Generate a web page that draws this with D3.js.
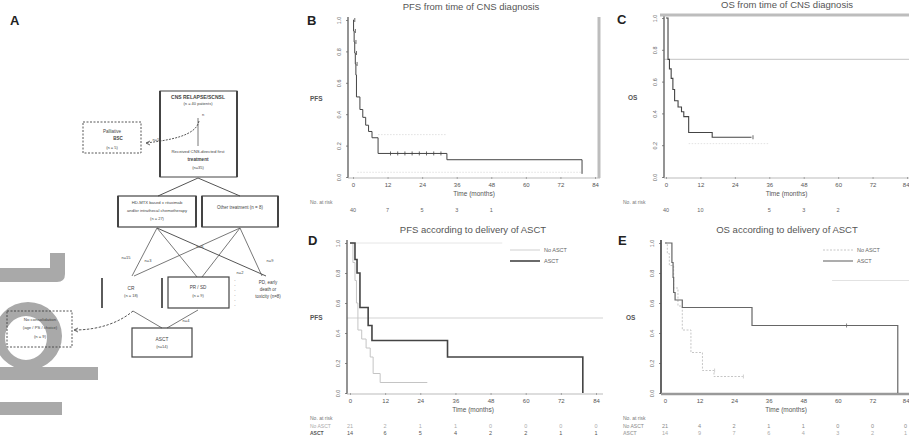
<!DOCTYPE html>
<html>
<head>
<meta charset="utf-8">
<script src="https://cdn.jsdelivr.net/npm/d3@7"></script>
<style>
  body { margin: 0; background: #fff; }
  svg { display: block; font-family: "Liberation Sans", Arial, sans-serif; }
</style>
</head>
<body>
<svg id="fig" width="909" height="441"></svg>
<script>
// ---- data (months / survival probability)
const monthTicks = [0, 12, 24, 36, 48, 60, 72, 84];
const survTicks = [0, 0.2, 0.4, 0.6, 0.8, 1];

// B: PFS, all patients
const pfsAllTime = [0, 0.2, 0.4, 0.6, 0.8, 1.0, 1.2, 2.4, 3.4, 4.4, 5.4, 6.6, 8.7, 32.6, 79.5];
const pfsAllSurv = [1.0, 0.93, 0.86, 0.79, 0.72, 0.65, 0.51, 0.43, 0.38, 0.33, 0.29, 0.25, 0.15, 0.11, 0.02];
const pfsAllEnd = 79.5;
const pfsAllCensor = [0.1, 0.3, 0.5, 0.7, 0.9, 12.5, 15, 17.5, 20, 22.5, 25, 27.5, 30];
const pfsAllRisk = [40, 7, 5, 3, 1, null, null, null];

// C: OS, all patients
const osAllTime = [0, 0.7, 1.2, 1.8, 2.4, 3.0, 4.2, 5.4, 6.2, 7.9, 16.1];
const osAllSurv = [1.0, 0.74, 0.68, 0.62, 0.55, 0.48, 0.44, 0.41, 0.38, 0.28, 0.25];
const osAllEnd = 29.8;
const osAllCensor = [29.8];
const osAllRisk = [40, 10, null, 5, 3, 2, null, null];

// D: PFS by ASCT
const pfsAsctTime = [0, 1.7, 2.4, 3.4, 6.2, 7.5, 33.3, 79.5];
const pfsAsctSurv = [1.0, 0.89, 0.80, 0.57, 0.45, 0.35, 0.24, 0.0];
const pfsAsctEnd = 79.5;
const pfsNoTime = [0, 1.0, 1.7, 2.2, 2.7, 4.0, 5.5, 6.9, 7.9, 10.3];
const pfsNoSurv = [1.0, 0.87, 0.75, 0.60, 0.42, 0.36, 0.30, 0.24, 0.13, 0.07];
const pfsNoEnd = 26.4;
const pfsNoRisk = [21, 2, 1, 1, 0, 0, 0, 0];
const pfsAsctRisk = [14, 6, 5, 4, 2, 2, 1, 1];

// E: OS by ASCT
const osAsctTime = [0, 2.4, 2.8, 3.0, 3.5, 6.0, 30.2, 80.8];
const osAsctSurv = [1.0, 0.87, 0.77, 0.67, 0.62, 0.57, 0.45, 0.0];
const osAsctEnd = 80.8;
const osAsctCensor = [62.5];
const osNoTime = [0, 0.8, 1.5, 3.0, 4.5, 6.0, 9.0, 13.0, 17.0];
const osNoSurv = [1.0, 0.93, 0.85, 0.70, 0.58, 0.42, 0.27, 0.15, 0.11];
const osNoEnd = 27;
const osNoCensor = [16.7, 26.7];
const osNoRisk = [21, 4, 2, 1, 1, 0, 0, 0];
const osAsctRisk = [14, 9, 7, 6, 4, 3, 2, 1];

const svg = d3.select('#fig');

// ---- grey watermark glyphs at lower left
const wm = svg.append('g').attr('fill', '#a9a9a9');
wm.append('path').attr('d', 'M50,253 H65 V274 Q65,282 57,282 H0 V268 H50 Z');
wm.append('path').attr('fill-rule', 'evenodd')
  .attr('d', 'M-6,336 a34,34 0 1,0 68,0 a34,34 0 1,0 -68,0 Z M5,338 a21,22 0 1,0 42,0 a21,22 0 1,0 -42,0 Z');
wm.append('rect').attr('x', 0).attr('y', 367).attr('width', 98).attr('height', 13);
wm.append('rect').attr('x', 0).attr('y', 402).attr('width', 62).attr('height', 13);

// ---- panel letters
const letters = [['A', 10, 25], ['B', 307, 25], ['C', 617, 24], ['D', 308, 245], ['E', 618, 245]];
svg.selectAll('text.letter').data(letters).join('text')
  .attr('class', 'letter')
  .attr('x', d => d[1]).attr('y', d => d[2])
  .text(d => d[0])
  .attr('font-size', 13).attr('font-weight', 'bold').attr('fill', '#222');

// ---- KM panel
function stepValue(times, surv, t) {
  const i = d3.bisectRight(times, t) - 1;
  return surv[Math.max(0, i)];
}

function drawPanel(p) {
  const g = svg.append('g');
  const x = d3.scaleLinear().domain([0, 84]).range([p.t0, p.t84]);
  const y = d3.scaleLinear().domain([0, 1]).range([p.y0, p.y1]);

  // reference lines
  (p.refs || []).forEach(r => {
    g.append('line')
      .attr('x1', r.from != null ? x(r.from) : p.axisX).attr('x2', r.to != null ? x(r.to) : p.right)
      .attr('y1', y(r.s)).attr('y2', y(r.s))
      .attr('stroke', r.color || '#d0d0d0').attr('stroke-width', r.w || 1.2);
  });

  // axes
  const yAxis = d3.axisLeft(y).tickValues(survTicks).tickSize(2).tickFormat(d3.format('.1f'));
  const ya = g.append('g').attr('transform', `translate(${p.axisX},0)`).call(yAxis);
  ya.select('.domain').remove();
  ya.selectAll('line').attr('stroke', '#888');
  ya.selectAll('text').attr('font-size', 5.5).attr('fill', '#666')
    .attr('x', -9).attr('y', 0).attr('dy', '0.32em').attr('text-anchor', 'middle')
    .attr('transform', 'rotate(-90,-9,0)');

  const xAxis = d3.axisBottom(x).tickValues(monthTicks).tickSize(2);
  const xa = g.append('g').attr('transform', `translate(0,${p.y0})`).call(xAxis);
  xa.select('.domain').remove();
  xa.selectAll('line').attr('stroke', '#888');
  xa.selectAll('text').attr('font-size', 6).attr('fill', '#555').attr('dy', '0.9em')
    .attr('text-anchor', d => (x(d) > 900 ? 'end' : 'middle'))
    .attr('dx', d => (x(d) > 900 ? 2 : 0));

  g.append('line').attr('x1', p.axisX).attr('x2', p.axisX).attr('y1', p.y1 - 3).attr('y2', p.y0 + 1)
    .attr('stroke', p.yAxisColor || '#666').attr('stroke-width', p.yAxisW || 1.4);
  g.append('line').attr('x1', p.axisX).attr('x2', p.right).attr('y1', p.y0 + 1).attr('y2', p.y0 + 1)
    .attr('stroke', p.xAxisColor || '#bbb').attr('stroke-width', p.xAxisW || 1);

  (p.frames || []).forEach(f => {
    g.append('line').attr('x1', f[0]).attr('y1', f[1]).attr('x2', f[2]).attr('y2', f[3])
      .attr('stroke', '#bdbdbd').attr('stroke-width', 3);
  });

  // curves
  const line = d3.line().x(d => x(d[0])).y(d => y(d[1])).curve(d3.curveStepAfter);
  p.curves.forEach(c => {
    const pts = c.time.map((t, i) => [t, c.surv[i]]);
    pts.push([c.end, c.surv[c.surv.length - 1]]);
    g.append('path').attr('d', line(pts)).attr('fill', 'none')
      .attr('stroke', c.color).attr('stroke-width', c.w)
      .attr('stroke-dasharray', c.dash || null);
    (c.censor || []).forEach(t => {
      const s = stepValue(c.time, c.surv, t);
      g.append('line').attr('x1', x(t) + 1.5).attr('x2', x(t) + 1.5)
        .attr('y1', y(s) - 2).attr('y2', y(s) + 2)
        .attr('stroke', c.color).attr('stroke-width', 0.8);
    });
  });

  // title, y label, x label
  g.append('text').attr('x', p.titleX).attr('y', p.y1 - 10).attr('text-anchor', 'middle')
    .attr('font-size', 9.5).attr('fill', '#555').text(p.title);
  g.append('text').attr('x', p.ylabX).attr('y', y(0.5) + 2).attr('font-size', 6.5)
    .attr('font-weight', 'bold').attr('fill', '#555').text(p.ylab);
  g.append('text').attr('x', (p.t0 + p.t84) / 2).attr('y', p.y0 + 19).attr('text-anchor', 'middle')
    .attr('font-size', 6.5).attr('fill', '#555').text('Time (months)');

  // legend
  if (p.legend) {
    p.legend.forEach((l, i) => {
      const ly = p.legendY + i * 11;
      g.append('line').attr('x1', p.legendX).attr('x2', p.legendX + 30).attr('y1', ly).attr('y2', ly)
        .attr('stroke', l.color).attr('stroke-width', l.w).attr('stroke-dasharray', l.dash || null);
      g.append('text').attr('x', p.legendX + 34).attr('y', ly + 2).attr('font-size', 5.5)
        .attr('fill', '#666').text(l.label);
    });
  }

  // numbers at risk
  g.append('text').attr('x', p.riskLabX).attr('y', p.y0 + 27).attr('font-size', 5)
    .attr('fill', '#777').text('No. at risk');
  p.risk.forEach((r, j) => {
    const ry = p.y0 + 35 + j * 7;
    if (r.label) {
      g.append('text').attr('x', p.riskLabX).attr('y', ry).attr('font-size', 5)
        .attr('font-weight', j === p.risk.length - 1 ? 'bold' : 'normal')
        .attr('fill', r.color).text(r.label);
    }
    r.values.forEach((v, i) => {
      if (v == null) return;
      g.append('text').attr('x', x(monthTicks[i])).attr('y', ry)
        .attr('text-anchor', x(monthTicks[i]) > 900 ? 'end' : 'middle')
        .attr('font-size', 5.5).attr('fill', r.color).text(v);
    });
  });
}

drawPanel({
  axisX: 348, t0: 353, t84: 595, y0: 177, y1: 20, right: 600,
  title: 'PFS from time of CNS diagnosis', titleX: 471, ylab: 'PFS', ylabX: 310,
  frames: [[599, 17, 599, 178]],
  curves: [
    { time: [8.7, 32.6], surv: [0.27, 0.27], end: 32.6, color: '#d8d8d8', w: 0.8, dash: '1.5,1.5' },
    { time: [1.5, 79.5], surv: [0.03, 0.03], end: 79.5, color: '#dadada', w: 0.8, dash: '1.5,1.5' },
    { time: pfsAllTime, surv: pfsAllSurv, end: pfsAllEnd, censor: pfsAllCensor, color: '#444', w: 1 }
  ],
  riskLabX: 310,
  risk: [{ label: null, values: pfsAllRisk, color: '#666' }]
});

drawPanel({
  axisX: 664, t0: 666, t84: 907, y0: 177, y1: 18, right: 909,
  title: 'OS from time of CNS diagnosis', titleX: 787, ylab: 'OS', ylabX: 628,
  refs: [{ s: 0.74, color: '#cfcfcf', w: 1.4 }],
  frames: [[660, 15, 909, 15]],
  curves: [
    { time: [7.9, 36], surv: [0.21, 0.21], end: 36, color: '#dcdcdc', w: 0.8, dash: '1.5,1.5' },
    { time: osAllTime, surv: osAllSurv, end: osAllEnd, censor: osAllCensor, color: '#444', w: 1.1 }
  ],
  riskLabX: 623,
  risk: [{ label: null, values: osAllRisk, color: '#666' }]
});

drawPanel({
  axisX: 347, t0: 350, t84: 596, y0: 393, y1: 243, right: 603,
  title: 'PFS according to delivery of ASCT', titleX: 473, ylab: 'PFS', ylabX: 310,
  refs: [{ s: 0.5, color: '#d4d4d4', w: 1.2 }, { s: 1, from: 0, to: 52, color: '#e6e6e6', w: 1 }],
  curves: [
    { time: pfsNoTime, surv: pfsNoSurv, end: pfsNoEnd, color: '#c4c4c4', w: 1 },
    { time: pfsAsctTime, surv: pfsAsctSurv, end: pfsAsctEnd, color: '#444', w: 1.6 }
  ],
  legend: [
    { label: 'No ASCT', color: '#cfcfcf', w: 1 },
    { label: 'ASCT', color: '#444', w: 1.6 }
  ],
  legendX: 510, legendY: 250,
  riskLabX: 310,
  risk: [
    { label: 'No ASCT', values: pfsNoRisk, color: '#aaa' },
    { label: 'ASCT', values: pfsAsctRisk, color: '#555' }
  ]
});

drawPanel({
  axisX: 661, t0: 665, t84: 907, y0: 393, y1: 243, right: 909,
  title: 'OS according to delivery of ASCT', titleX: 787, ylab: 'OS', ylabX: 626,
  yAxisColor: '#555', yAxisW: 1.8, xAxisColor: '#9a9a9a', xAxisW: 2.5,
  refs: [{ s: 0.75, from: 58, color: '#e2e2e2', w: 1 }],
  curves: [
    { time: osNoTime, surv: osNoSurv, end: osNoEnd, censor: osNoCensor, color: '#c6c6c6', w: 1, dash: '2,1.5' },
    { time: osAsctTime, surv: osAsctSurv, end: osAsctEnd, censor: osAsctCensor, color: '#666', w: 1.2 }
  ],
  legend: [
    { label: 'No ASCT', color: '#c6c6c6', w: 1, dash: '2,1.5' },
    { label: 'ASCT', color: '#777', w: 1.2 }
  ],
  legendX: 823, legendY: 250,
  riskLabX: 623,
  risk: [
    { label: 'No ASCT', values: osNoRisk, color: '#888' },
    { label: 'ASCT', values: osAsctRisk, color: '#aaa' }
  ]
});

// ---- panel A: flow chart of patients
const fc = svg.append('g').attr('stroke', '#444').attr('fill', 'none');

function box(x0, y0, x1, y1, opts = {}) {
  fc.append('rect').attr('x', x0).attr('y', y0).attr('width', x1 - x0).attr('height', y1 - y0)
    .attr('stroke-width', opts.w || 1).attr('stroke-dasharray', opts.dash || null)
    .attr('stroke', opts.color || '#444');
  if (opts.thickSides) {
    [x0, x1].forEach(xx => fc.append('line').attr('x1', xx).attr('x2', xx).attr('y1', y0).attr('y2', y1)
      .attr('stroke-width', 2));
  }
}
function seg(x1, y1, x2, y2, opts = {}) {
  fc.append('line').attr('x1', x1).attr('y1', y1).attr('x2', x2).attr('y2', y2)
    .attr('stroke-width', opts.w || 0.8).attr('stroke', opts.color || '#555')
    .attr('stroke-dasharray', opts.dash || null);
}
function label(x, y, s, opts = {}) {
  svg.append('text').attr('x', x).attr('y', y).attr('text-anchor', opts.anchor || 'middle')
    .attr('font-size', opts.size || 4.6).attr('font-weight', opts.bold ? 'bold' : 'normal')
    .attr('fill', opts.color || '#444').text(s);
}

// top box
box(160, 91, 237, 177, { thickSides: true });
label(198, 99, 'CNS RELAPSE/SCNSL', { bold: true, size: 5 });
label(198, 105, '(n = 40 patients)', { size: 4 });
label(203, 116, 'n', { size: 4 });
seg(198, 118, 198, 146);
fc.append('path').attr('d', 'M199,121 C196,136 170,140 146,143').attr('stroke-width', 0.9).attr('stroke-dasharray', '2,1.2');
fc.append('path').attr('d', 'M146,143 l4,-2 M146,143 l4,2').attr('stroke-width', 0.8);
label(156, 141, 'n=5', { size: 4 });
label(198, 153, 'Received CNS-directed first', { size: 4.3 });
label(198, 161, 'treatment', { size: 4.6, bold: true });
label(198, 169, '(n=35)', { size: 4 });

// dashed box left (palliative)
box(83, 122, 141, 153, { dash: '2,1.5', w: 0.9 });
label(112, 133, 'Palliative', { size: 4.5 });
label(118, 140, 'BSC', { size: 4.5, bold: true });
label(112, 149, '(n = 5)', { size: 4 });

// lines to second level
seg(198, 178, 158, 196, { w: 1 });
seg(198, 178, 240, 196, { w: 1 });

// second level boxes
box(118, 196, 196, 227, { thickSides: true, w: 1.2 });
label(157, 204, 'HD-MTX based ± rituximab', { size: 4.2 });
label(157, 212, 'and/or intrathecal chemotherapy', { size: 4.2 });
label(157, 220, '(n = 27)', { size: 4 });
box(202, 196, 278, 227, { thickSides: true, w: 1.2 });
label(240, 209, 'Other treatment (n = 8)', { size: 4.5 });

// lines to third level
seg(157, 228, 132, 276); seg(157, 228, 197, 277); seg(157, 228, 266, 276, { w: 1 });
seg(240, 228, 134, 276); seg(240, 228, 202, 277); seg(240, 228, 262, 276);
label(126, 259, 'n=15', { size: 4 });
label(148, 262, 'n=3', { size: 4 });
label(200, 248, 'n=6', { size: 4 });
label(270, 262, 'n=9', { size: 4 });
label(240, 274, 'n=2', { size: 4 });

// third level
seg(102, 278, 102, 308, { w: 1.6, color: '#333' });
seg(162, 278, 162, 308, { w: 1.6, color: '#333' });
label(131, 290, 'CR', { size: 4.8 });
label(131, 297, '(n = 18)', { size: 4 });
box(168, 277, 229, 308, { w: 1.2 });
label(198, 289, 'PR / SD', { size: 4.6 });
label(198, 297, '(n = 9)', { size: 4 });
['-', '-', '-', '-', '-', '-'].forEach((s, i) => label(235, 281 + i * 5, s, { size: 4 }));
label(268, 284, 'PD, early', { size: 4.5 });
label(268, 291, 'death or', { size: 4.5 });
label(268, 298, 'toxicity (n=8)', { size: 4.5 });

// fourth level
seg(133, 311, 162, 328); seg(198, 310, 167, 328);
label(186, 322, 'n=4', { size: 4 });
box(132, 328, 192, 357, { w: 1.2 });
label(162, 341, 'ASCT', { size: 4.8 });
label(162, 348, '(n=14)', { size: 4 });

// dashed box (not consolidated)
fc.append('path').attr('d', 'M133,311 C120,322 100,330 74,330').attr('stroke-width', 0.9).attr('stroke-dasharray', '2.5,1.5');
fc.append('path').attr('d', 'M74,330 l4,-2 M74,330 l4,2').attr('stroke-width', 0.8);
box(7, 311, 72, 347, { dash: '2,1.5', w: 0.9 });
label(40, 321, 'No consolidation', { size: 4.4 });
label(40, 329, '(age / PS / choice)', { size: 4.2 });
label(40, 338, '(n = 9)', { size: 4.2 });
</script>
</body>
</html>
